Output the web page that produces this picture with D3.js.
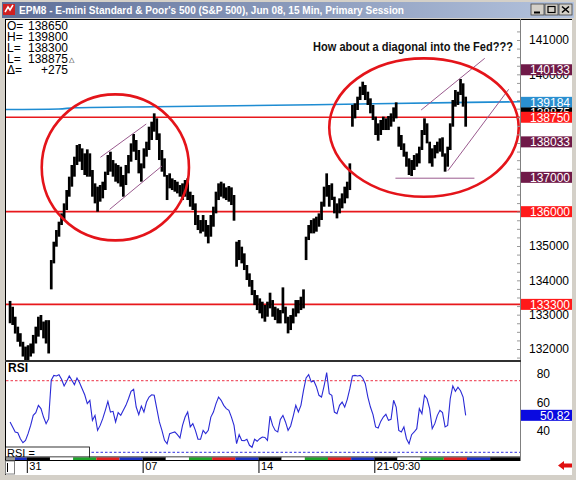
<!DOCTYPE html>
<html><head><meta charset="utf-8">
<script src="https://cdn.jsdelivr.net/npm/d3@7"></script>
<style>body{margin:0;background:#D4D0C8;} svg{display:block;font-family:Arial,"Liberation Sans",sans-serif;}</style>
</head><body><svg id="c" width="576" height="480"></svg>
<script>
// ---------- DATA ----------
const titleText = "EPM8 - E-mini Standard & Poor's 500 (S&P 500), Jun 08, 15 Min, Primary Session";
const infoLabels = ["O=", "H=", "L=", "L=", "\u0394="];
const infoValues = ["138650", "139800", "138300", "138875", "+275"];
const noteText = "How about a diagonal into the Fed???";

// 45-minute groups (3 x 15-min bars) : Fri Mar 28 (partial) .. Thu Apr 24
const hi = [
133400,133230,132940,132650,132460,132210,132070,
132110,132160,132410,132650,132940,132990,132800,132840,132840,
134591,135125,135465,135708,135951,136242,136630,137019,137359,
137601,137941,137970,137844,137699,137815,137699,137213,136825,
136728,136776,136873,137165,137650,137747,137504,137407,137359,
137310,137067,137359,137650,137990,138262,138087,137796,137407,
137844,138038,138475,138621,138864,138718,138281,137796,137553,
137067,137116,136970,136922,136873,136776,136825,136922,136970,
136582,136485,136242,135902,135756,135902,135756,135611,135902,
136145,136582,136825,136873,136825,136708,136747,136708,136485,
135125,135174,134980,134786,134446,134203,134009,133717,133571,
133475,133378,133281,133378,133640,133426,133232,133183,133135,
133795,133232,132940,132989,133183,133426,133426,133523,133737,
135271,135611,135756,135805,135854,135951,136291,136728,137116,
136776,136825,136436,136242,136388,136533,136728,136873,137407,
139107,139155,139349,139641,139786,139689,139495,139301,139107,
138767,138573,138670,138767,138718,138786,138864,139038,139184,
138475,138233,137990,137747,137553,137504,137650,137699,137893,
138378,138718,138573,138038,137844,137941,138038,138136,138165,
137699,137893,138573,139252,139543,139495,139864,139738,139349
];
const lo = [
132750,132700,132450,132210,132070,131780,131680,
131680,131780,131870,132160,132360,132550,132310,132160,131870,
133737,134494,134980,135271,135611,135757,136048,136436,136728,
137019,137359,137456,137213,137068,137019,137019,136436,136242,
136000,136291,136388,136631,137068,137165,137019,136873,136825,
136728,136436,136776,137116,137456,137747,137504,137116,136873,
137262,137602,137796,138087,138330,138087,137504,137164,137019,
136339,136679,136630,136582,136533,136436,136339,136436,136339,
136145,136048,135611,135465,135368,135417,135271,135077,135271,
135562,135951,136339,136436,136387,136339,136290,136193,135737,
134397,134591,134494,134300,134009,133814,133571,133280,133135,
133038,132892,132795,132940,133184,132940,132843,132746,132746,
133038,132746,132455,132552,132746,132940,133038,133135,133183,
134591,135174,135368,135368,135417,135562,135757,136145,136436,
136145,136339,135951,135805,135951,136097,136242,136388,136630,
138475,138718,138961,139252,139398,139252,139107,138864,138669,
138233,138067,138233,138378,138378,138378,138476,138621,138718,
137893,137796,137601,137310,137068,137038,137213,137310,137407,
137796,138233,137990,137407,137310,137553,137698,137747,137601,
137165,137310,137796,138475,139058,139107,139398,139058,138475
];
const rsi = [
46.2,42.7,39.2,38.7,34.5,31.7,33.3,
38.0,43.8,50.8,52.7,57.8,55.5,49.6,45.0,48.5,
75.3,78.7,78.3,79.2,76.0,71.3,74.6,78.3,75.3,
72.2,76.9,73.6,69.4,65.2,59.0,61.3,47.3,50.8,
40.3,43.8,48.5,54.3,60.6,53.1,53.6,46.2,52.7,
50.8,54.3,57.8,62.4,67.6,69.0,56.6,51.3,57.3,
53.1,60.1,63.6,65.2,64.8,55.5,46.2,40.3,33.4,
31.0,38.0,38.7,39.2,37.3,35.0,43.8,49.6,53.1,
42.7,45.0,40.3,34.1,34.1,40.3,38.0,40.3,49.6,
53.1,59.0,63.6,61.3,57.8,55.5,54.3,49.6,43.8,
31.0,37.3,33.3,33.1,34.1,29.9,28.5,34.1,32.7,
34.5,35.7,35.4,33.3,50.3,43.8,40.3,39.2,48.0,
50.8,46.2,40.3,43.4,50.3,57.8,53.1,57.8,68.3,
76.9,79.2,74.1,75.0,70.8,64.8,63.6,71.3,80.6,
66.0,64.8,53.1,52.0,57.8,60.1,56.6,62.0,69.4,
78.3,78.7,78.3,78.7,76.9,72.9,63.6,56.6,51.3,
42.7,42.0,46.6,49.6,51.5,47.3,48.0,61.3,56.6,
40.3,39.2,42.7,34.5,31.0,37.3,39.2,41.5,55.5,
52.0,64.8,62.4,55.5,41.5,45.0,50.8,54.3,52.7,
42.7,43.8,62.4,71.3,67.6,70.4,68.0,63.6,50.82
];
const rsiLast = 50.82;

// moving-average style blue line: [groupIndex, price]
const maLine = [[-2,138975],[19,138990],[25,139025],[56,139055],[118,139115],[178,139184],[199,139200]];
// horizontal support/resistance lines
const redLevels = [138750, 136000, 133300];
// price axis
const priceTicks = [132000,133000,134000,135000,136000,137000,138000,139000,140000,141000];
const priceBoxes = [
  {v:140133, c:"#701A48"},
  {v:139184, c:"#2A8FD0"},
  {v:138875, c:"#000000"},
  {v:138750, c:"#FF1A1A"},
  {v:138033, c:"#701A48"},
  {v:137000, c:"#701A48"},
  {v:136000, c:"#FF1A1A"},
  {v:133300, c:"#FF1A1A"}
];
// RSI axis
const rsiTicks = [40, 60, 80];
const rsiLevels = [{v:75, c:"#F05A6A"}, {v:25, c:"#5A5AE6"}];
// date axis (Monday starts, in group index units)
const weekStarts = [6.5, 51.5, 96.5, 141.5];
const weekLabels = ["31", "07", "14", "21-09:30"];
// day colour strip: day k (k=0 is Mon Mar 31), colours by weekday
const dayKs = d3.range(-1, 21);
const weekdayColors = ["#000000", "#FFFFFF", "#1FA52A", "#E02020", "#1C2FC0"]; // Mon..Fri

// annotations in data units
const trendLines = [
  [[35.1,137583],[52.9,138553]],
  [[38.7,136069],[59.0,137330]],
  [[159.7,138961],[184.4,140467]],
  [[170.1,137193],[193.7,139564]],
  [[149.7,136975],[180.4,136975]]
];
const circles = [ {ci:40.9, cp:137290, ri:28.6, rp:2125}, {ci:160.8, cp:138450, ri:36.8, rp:2015} ];

// ---------- LAYOUT ----------
const PL = 6, PR = 520, PT = 20, PB = 360;      // price panel
const RT = 362, RB = 457;                       // rsi panel
const x = d3.scaleLinear().domain([6.5, 141.5]).range([26.8, 374.3]);
const y = d3.scaleLinear().domain([132000, 141000]).range([349, 40]);
const yr = d3.scaleLinear().domain([25, 75]).range([452.3, 380.7]);

const svg = d3.select("#c");
const defs = svg.append("defs");
const g1 = defs.append("linearGradient").attr("id","tg").attr("x1",0).attr("x2",1);
g1.append("stop").attr("offset",0).attr("stop-color","#5E6F98");
g1.append("stop").attr("offset",1).attr("stop-color","#B4C3DD");
defs.append("clipPath").attr("id","cp").append("rect").attr("x",PL).attr("y",PT).attr("width",PR-PL).attr("height",PB-PT);
defs.append("clipPath").attr("id","cr").append("rect").attr("x",PL).attr("y",RT).attr("width",PR-PL).attr("height",RB-RT);
defs.append("clipPath").attr("id","cs").append("rect").attr("x",15).attr("y",456).attr("width",PR-15).attr("height",6);

// window chrome
svg.append("rect").attr("width",576).attr("height",480).attr("fill","#D4D0C8");
svg.append("rect").attr("x",2).attr("y",2).attr("width",572).attr("height",16).attr("fill","url(#tg)");
// icon
svg.append("rect").attr("x",3).attr("y",4).attr("width",12).attr("height",11).attr("fill","#D02020");
svg.append("path").attr("d","M5,12 L8,7 L10,10 L13,5").attr("stroke","#fff").attr("stroke-width",1.5).attr("fill","none");
svg.append("text").attr("x",19).attr("y",14).attr("fill","#fff").attr("font-weight","bold")
  .attr("font-size",11).attr("textLength",385).attr("lengthAdjust","spacingAndGlyphs").text(titleText);
// buttons
[531, 545, 559].forEach((bx,k)=>{
  svg.append("rect").attr("x",bx).attr("y",4).attr("width",13).attr("height",11).attr("fill","#D4D0C8")
    .attr("stroke","#404040").attr("stroke-width",0.8);
});
svg.append("path").attr("d","M534,12.5 H540").attr("stroke","#000").attr("stroke-width",2);
svg.append("rect").attr("x",548).attr("y",6.5).attr("width",7).attr("height",6).attr("fill","none").attr("stroke","#000").attr("stroke-width",1.2);
svg.append("path").attr("d","M562,6.5 L569,12.5 M569,6.5 L562,12.5").attr("stroke","#000").attr("stroke-width",1.6);

// white chart background
svg.append("rect").attr("x",5).attr("y",19).attr("width",567).attr("height",456).attr("fill","#fff");
// price panel frame
svg.append("line").attr("x1",5).attr("x2",572).attr("y1",19.5).attr("y2",19.5).attr("stroke","#000");
svg.append("line").attr("x1",PL-0.5).attr("x2",PL-0.5).attr("y1",19).attr("y2",475).attr("stroke","#000");
svg.append("line").attr("x1",PR+0.5).attr("x2",PR+0.5).attr("y1",19).attr("y2",461).attr("stroke","#808080");
svg.append("rect").attr("x",PL-1).attr("y",PB).attr("width",PR-PL+2).attr("height",2).attr("fill","#303030");

// red horizontal lines
const gp = svg.append("g").attr("clip-path","url(#cp)");
gp.selectAll(".rl").data(redLevels).join("line").attr("class","rl")
  .attr("x1",PL).attr("x2",PR).attr("y1",d=>y(d)).attr("y2",d=>y(d)).attr("stroke","#E8181C").attr("stroke-width",1.6);
// blue line
gp.append("path").datum(maLine).attr("d", d3.line().x(d=>x(d[0])).y(d=>y(d[1])).curve(d3.curveMonotoneX))
  .attr("fill","none").attr("stroke","#1E8CD2").attr("stroke-width",1.6);
// price bars
gp.selectAll(".bar").data(d3.range(hi.length)).join("rect").attr("class","bar")
  .attr("x",i=>x(i)-1.35).attr("width",2.7).attr("y",i=>y(hi[i])).attr("height",i=>Math.max(1,y(lo[i])-y(hi[i])))
  .attr("fill","#000");
// trend lines
gp.selectAll(".tl").data(trendLines).join("line").attr("class","tl")
  .attr("x1",d=>x(d[0][0])).attr("y1",d=>y(d[0][1])).attr("x2",d=>x(d[1][0])).attr("y2",d=>y(d[1][1]))
  .attr("stroke","#9A5A8E").attr("stroke-width",1);
// circles
gp.selectAll(".el").data(circles).join("ellipse").attr("class","el")
  .attr("cx",d=>x(d.ci)).attr("cy",d=>y(d.cp))
  .attr("rx",d=>x(d.ci+d.ri)-x(d.ci)).attr("ry",d=>y(d.cp-d.rp)-y(d.cp))
  .attr("fill","none").attr("stroke","#E4141A").attr("stroke-width",2.6);
// note text
svg.append("text").attr("x",313).attr("y",51).attr("font-weight","bold").attr("font-size",12)
  .attr("textLength",200).attr("lengthAdjust","spacingAndGlyphs").attr("fill","#111").text(noteText);
// info box text
const gi = svg.append("g").attr("font-size",12).attr("fill","#000");
infoLabels.forEach((t,k)=>{
  gi.append("text").attr("x",7).attr("y",30+k*11).text(t);
  gi.append("text").attr("x",68).attr("y",30+k*11).attr("text-anchor","end").text(infoValues[k]);
});
gi.append("text").attr("x",69).attr("y",62).attr("font-size",7).text("\u25B3");

// price axis labels
const ax = svg.append("g").attr("transform",`translate(572,0)`)
  .call(d3.axisLeft(y).tickValues(priceTicks).tickSize(0).tickPadding(3).tickFormat(d3.format("d")));
ax.select(".domain").remove();
ax.selectAll("text").attr("font-size",12).attr("font-family","Arial, Liberation Sans, sans-serif").attr("fill","#000");
// minor ticks on plot edge
const mt = svg.append("g").attr("transform",`translate(${PR},0)`)
  .call(d3.axisLeft(y).tickValues(d3.range(131750,141500,250)).tickSize(3).tickFormat(""));
mt.select(".domain").remove(); mt.selectAll("line").attr("stroke","#999");
// price boxes
const gb = svg.append("g");
priceBoxes.forEach(b=>{
  gb.append("rect").attr("x",PR+1).attr("y",y(b.v)-5.5).attr("width",51).attr("height",11).attr("fill",b.c);
  gb.append("text").attr("x",570).attr("y",y(b.v)+4.3).attr("text-anchor","end").attr("font-size",12).attr("fill","#fff").text(b.v);
});

// ---------- RSI ----------
const gr = svg.append("g").attr("clip-path","url(#cr)");
gr.selectAll(".lv").data(rsiLevels).join("line").attr("class","lv")
  .attr("x1",PL).attr("x2",PR).attr("y1",d=>yr(d.v)).attr("y2",d=>yr(d.v))
  .attr("stroke",d=>d.c).attr("stroke-width",1.3).attr("stroke-dasharray","2.5,2");
gr.append("path").datum(rsi).attr("d", d3.line().x((d,i)=>x(i)).y(d=>yr(d)))
  .attr("fill","none").attr("stroke","#2A2AD6").attr("stroke-width",1.1);
svg.append("text").attr("x",8).attr("y",372).attr("font-size",12).attr("font-weight","bold").text("RSI");
svg.append("rect").attr("x",5.5).attr("y",447).attr("width",84).attr("height",12).attr("fill","#fff").attr("stroke","#000").attr("stroke-width",0.8);
svg.append("text").attr("x",7).attr("y",457).attr("font-size",11).text("RSI =");
const ar = svg.append("g").attr("transform",`translate(553,0)`)
  .call(d3.axisLeft(yr).tickValues(rsiTicks).tickSize(0).tickPadding(3));
ar.select(".domain").remove();
ar.selectAll("text").attr("font-size",12).attr("font-family","Arial, Liberation Sans, sans-serif").attr("fill","#000");
svg.append("rect").attr("x",PR+1).attr("y",yr(rsiLast)-5.5).attr("width",51).attr("height",11).attr("fill","#0A0AE0");
svg.append("text").attr("x",570).attr("y",yr(rsiLast)+4.3).attr("text-anchor","end").attr("font-size",12).attr("fill","#fff").text(rsiLast.toFixed(2));

// day strip
svg.append("line").attr("x1",PL).attr("x2",PR).attr("y1",457).attr("y2",457).attr("stroke","#000");
const gs = svg.append("g").attr("clip-path","url(#cs)");
gs.selectAll(".dy").data(dayKs).join("rect").attr("class","dy")
  .attr("x",k=>x(6.5+9*k)).attr("width",(k,j)=> j===dayKs.length-1 ? PR-x(6.5+9*k) : x(15.5+9*k)-x(6.5+9*k))
  .attr("y",457.5).attr("height",3).attr("fill",k=>weekdayColors[((k%5)+5)%5]);
svg.append("line").attr("x1",PL).attr("x2",PR).attr("y1",460.5).attr("y2",460.5).attr("stroke","#000");

// date axis
const ad = svg.append("g").attr("transform","translate(0,461)")
  .call(d3.axisBottom(x).tickValues(weekStarts).tickSize(12).tickFormat((d,k)=>weekLabels[k]));
ad.select(".domain").remove();
ad.selectAll("line").attr("stroke","#000");
ad.selectAll("text").attr("text-anchor","start").attr("x",2).attr("y",1).attr("dy","0.71em")
  .attr("font-size",11).attr("font-family","Arial, Liberation Sans, sans-serif").attr("fill","#000");
// little scroll box
svg.append("rect").attr("x",5.5).attr("y",461).attr("width",9).attr("height",13).attr("fill","#fff").attr("stroke","#808080");
svg.append("line").attr("x1",7.5).attr("x2",7.5).attr("y1",463).attr("y2",472).attr("stroke","#000");
// red arrow
svg.append("path").attr("d","M558,465.5 L564,461 L564,463.5 L572,463.5 L572,467.5 L564,467.5 L564,470 Z").attr("fill","#E01010");
</script></body></html>
